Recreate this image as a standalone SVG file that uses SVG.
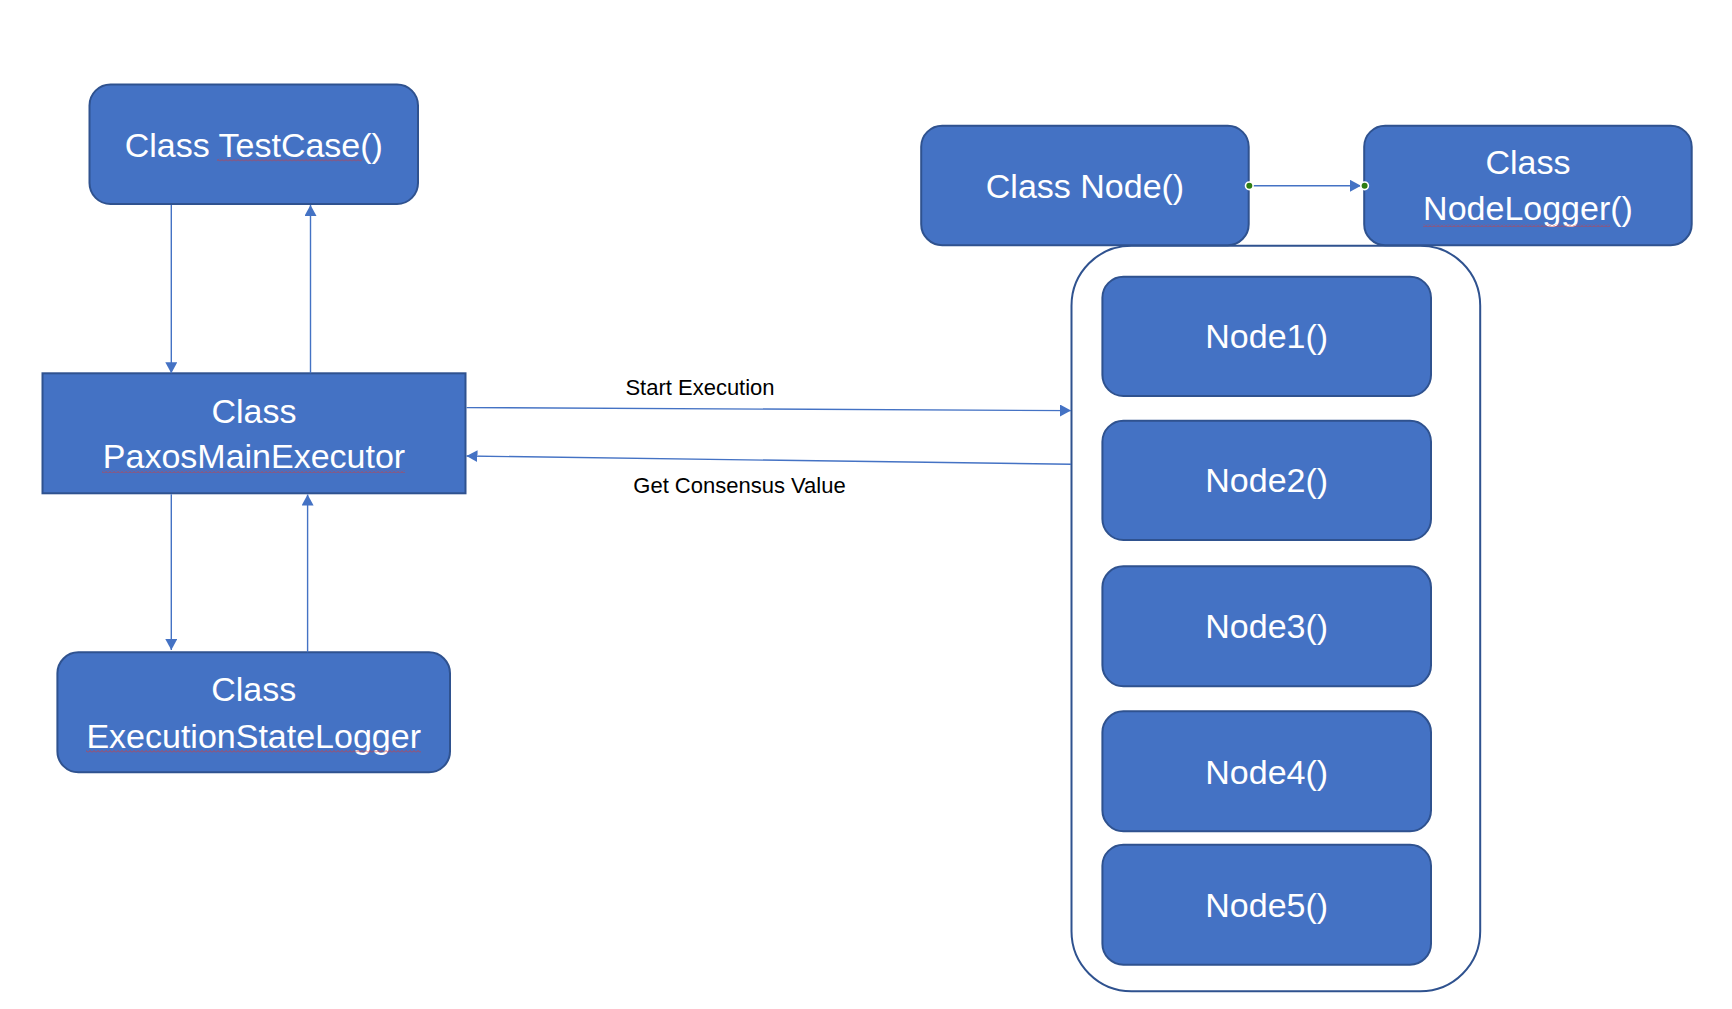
<svg xmlns="http://www.w3.org/2000/svg" width="1732" height="1009" viewBox="0 0 1732 1009">
<style>
.box{fill:#4472C4;stroke:#2F528F;stroke-width:2}
.cont{fill:#FFFFFF;stroke:#2F528F;stroke-width:2}
.t{font-family:"Liberation Sans",Arial,sans-serif;font-size:34px;fill:#FFFFFF;text-anchor:middle}
.lbl{font-family:"Liberation Sans",Arial,sans-serif;font-size:22px;fill:#000000;text-anchor:middle}
.c{fill:none;stroke:#4472C4;stroke-width:1.4}
.dot{fill:#2E7D12;stroke:#FFFFFF;stroke-width:1.6}
</style>
<defs>
<marker id="ah" viewBox="0 0 11 12" refX="11" refY="6" markerWidth="11" markerHeight="12" markerUnits="userSpaceOnUse" orient="auto">
<path d="M0 0 L11 6 L0 12 z" fill="#4472C4"/>
</marker>
<pattern id="sq" width="4" height="3" patternUnits="userSpaceOnUse">
<path d="M0 2.5 L2 0.5 L4 2.5" fill="none" stroke="#D23C3C" stroke-width="0.8"/>
</pattern>
</defs>
<rect width="1732" height="1009" fill="#FFFFFF"/>

<g id="node-testcase">
<rect class="box" x="89.5" y="84.5" width="328.5" height="119.5" rx="21"/>
<text class="t" x="253.8" y="157">Class TestCase()</text>
<rect x="217" y="158.5" width="145" height="3" fill="url(#sq)"/>
</g>

<g id="node-paxosmain">
<rect class="box" x="42.5" y="373.3" width="423" height="120"/>
<text class="t" x="254" y="422.7">Class</text>
<text class="t" x="254" y="468.3">PaxosMainExecutor</text>
<rect x="102" y="470" width="303" height="3" fill="url(#sq)"/>
</g>

<g id="node-execlogger">
<rect class="box" x="57.4" y="652.3" width="392.6" height="120" rx="21"/>
<text class="t" x="253.7" y="700.7">Class</text>
<text class="t" x="253.7" y="748.3">ExecutionStateLogger</text>
<rect x="86" y="750" width="335" height="3" fill="url(#sq)"/>
</g>

<g id="node-container">
<rect class="cont" x="1071.5" y="245.7" width="408.7" height="745.6" rx="60"/>
</g>

<g id="node-classnode">
<rect class="box" x="921.2" y="125.7" width="327.5" height="119.5" rx="21"/>
<text class="t" x="1085" y="198.3">Class Node()</text>
</g>

<g id="node-nodelogger">
<rect class="box" x="1364.2" y="125.7" width="327.5" height="119.5" rx="21"/>
<text class="t" x="1528" y="174">Class</text>
<text class="t" x="1528" y="220">NodeLogger()</text>
<rect x="1423" y="224" width="187" height="3" fill="url(#sq)"/>
</g>

<g id="node-node1">
<rect class="box" x="1102.4" y="276.7" width="328.6" height="119.3" rx="21"/>
<text class="t" x="1266.7" y="348.3">Node1()</text>
</g>
<g id="node-node2">
<rect class="box" x="1102.4" y="420.7" width="328.6" height="119.3" rx="21"/>
<text class="t" x="1266.7" y="492.3">Node2()</text>
</g>
<g id="node-node3">
<rect class="box" x="1102.4" y="566.3" width="328.6" height="120" rx="21"/>
<text class="t" x="1266.7" y="638">Node3()</text>
</g>
<g id="node-node4">
<rect class="box" x="1102.4" y="711.3" width="328.6" height="120" rx="21"/>
<text class="t" x="1266.7" y="784">Node4()</text>
</g>
<g id="node-node5">
<rect class="box" x="1102.4" y="844.7" width="328.6" height="120" rx="21"/>
<text class="t" x="1266.7" y="916.7">Node5()</text>
</g>

<g id="connectors">
<path class="c" d="M171.3 205 L171.3 373.3" marker-end="url(#ah)"/>
<path class="c" d="M310.5 373.3 L310.5 205" marker-end="url(#ah)"/>
<path class="c" d="M171.3 494.3 L171.3 650" marker-end="url(#ah)"/>
<path class="c" d="M307.6 652.3 L307.6 494.5" marker-end="url(#ah)"/>
<path class="c" d="M466.5 407.6 L1071 410.6" marker-end="url(#ah)"/>
<path class="c" d="M1071 464.3 L466.5 456" marker-end="url(#ah)"/>
<path class="c" d="M1249.3 185.8 L1361 185.8" marker-end="url(#ah)"/>
<circle class="dot" cx="1249.3" cy="185.8" r="3.8"/>
<circle class="dot" cx="1364.6" cy="185.8" r="3.8"/>
<text class="lbl" x="700" y="395">Start Execution</text>
<text class="lbl" x="739.5" y="493.3">Get Consensus Value</text>
</g>
</svg>
